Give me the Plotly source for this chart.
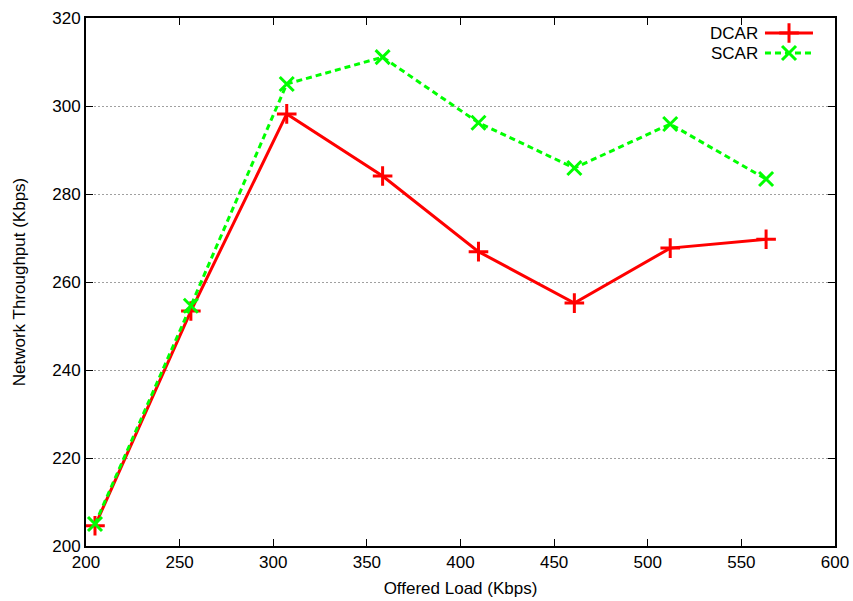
import plotly.graph_objects as go

offered_load = [204.8, 256.0, 307.2, 358.4, 409.6, 460.8, 512.0, 563.2]
dcar = [204.6, 253.4, 298.2, 284.1, 266.9, 255.2, 267.7, 269.7]
scar = [205.0, 254.6, 305.0, 311.1, 296.2, 285.9, 295.9, 283.4]
series_names = ["DCAR", "SCAR"]
x_ticks = [200, 250, 300, 350, 400, 450, 500, 550, 600]
y_ticks = [200, 220, 240, 260, 280, 300, 320]

FONT = "Liberation Sans, Arial, sans-serif"
RED = "#ff0000"
GREEN = "#00ff00"

fig = go.Figure()
fig.add_trace(go.Scatter(
    x=offered_load, y=dcar, mode="lines+markers", name=series_names[0],
    line=dict(color=RED, width=3),
    marker=dict(symbol="cross-thin", size=14, line=dict(color=RED, width=3)),
    showlegend=False))
fig.add_trace(go.Scatter(
    x=offered_load, y=scar, mode="lines+markers", name=series_names[1],
    line=dict(color=GREEN, width=3, dash="6px,4px"),
    marker=dict(symbol="x-thin", size=14, line=dict(color=GREEN, width=3)),
    showlegend=False))

# gnuplot-style key: text to the left of the sample (drawn on an overlay axis)
key_y = [0.9716, 0.9337]
key_line_x = [0.9065, 0.9706]
key_mark_x = 0.9386
styles = [
    (RED, "solid", "cross-thin"),
    (GREEN, "6px,4px", "x-thin"),
]
for name, ky, (col, dash, sym) in zip(series_names, key_y, styles):
    fig.add_trace(go.Scatter(
        x=key_line_x, y=[ky, ky], xaxis="x2", yaxis="y2", mode="lines",
        line=dict(color=col, width=3, dash=dash), showlegend=False, hoverinfo="skip"))
    fig.add_trace(go.Scatter(
        x=[key_mark_x], y=[ky], xaxis="x2", yaxis="y2", mode="markers",
        marker=dict(symbol=sym, size=14, line=dict(color=col, width=3)),
        showlegend=False, hoverinfo="skip"))
    fig.add_annotation(x=0.8985, y=ky, xref="x2", yref="y2", text=name,
                       showarrow=False, xanchor="right", yanchor="middle",
                       height=15, borderpad=0,
                       font=dict(family=FONT, size=17, color="black"))

axis_common = dict(
    showline=True, linecolor="black", linewidth=2, mirror="allticks",
    ticks="inside", ticklen=7, tickwidth=1, tickcolor="black",
    tickfont=dict(family=FONT, size=17, color="black"),
    zeroline=False, automargin=False,
)
fig.update_layout(
    width=853, height=601,
    margin=dict(l=86, r=18, t=18, b=55),
    paper_bgcolor="white", plot_bgcolor="white",
    xaxis=dict(range=[200, 600], tickvals=x_ticks, showgrid=False,
               title=dict(text="Offered Load (Kbps)", standoff=11,
                          font=dict(family=FONT, size=17, color="black")),
               **axis_common),
    yaxis=dict(range=[200, 320], tickvals=y_ticks, showgrid=True,
               gridcolor="#a0a0a0", griddash="2px,2px", gridwidth=1,
               title=dict(text="Network Throughput (Kbps)", standoff=22,
                          font=dict(family=FONT, size=17, color="black")),
               **axis_common),
    xaxis2=dict(range=[0, 1], overlaying="x", visible=False, fixedrange=True),
    yaxis2=dict(range=[0, 1], overlaying="y", visible=False, fixedrange=True),
    showlegend=False,
)

fig.write_html("out.html")
